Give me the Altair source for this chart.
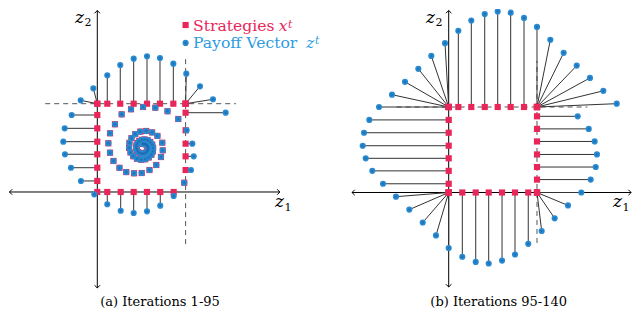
import altair as alt
import numpy as np
import pandas as pd

# ---------------- data (units: the strategy square is [0,1] x [0,1]) ----------------
# (a) payoff vectors z^t, iterations 1-95, in time order
za_u = [0.512, 0.528, 0.545, 0.559, 0.570, 0.575, 0.575, 0.566, 0.551, 0.531,
        0.508, 0.485, 0.464, 0.449, 0.441, 0.443, 0.455, 0.475, 0.504, 0.537,
        0.570, 0.600, 0.622, 0.632, 0.630, 0.613, 0.583, 0.543, 0.496, 0.449,
        0.407, 0.376, 0.360, 0.364, 0.387, 0.430, 0.487, 0.554, 0.621, 0.681,
        0.736, 0.741, 0.721, 0.668, 0.591, 0.503, 0.416, 0.328, 0.251, 0.183,
        0.144, 0.125, 0.144, 0.200, 0.276, 0.382, 0.518, 0.657, 0.795, 0.917,
        1.012, 1.076, 1.092, 1.061, 0.985, 0.865, 0.713, 0.563, 0.412, 0.265,
        0.113, -0.034, -0.185, -0.298, -0.366, -0.385, -0.369, -0.290, -0.188, -0.045,
        0.113, 0.260, 0.412, 0.563, 0.710, 0.861, 1.008, 1.163, 1.310, 1.454]
za_v = [0.544, 0.546, 0.542, 0.533, 0.518, 0.500, 0.480, 0.461, 0.446, 0.436,
        0.434, 0.439, 0.453, 0.474, 0.500, 0.528, 0.555, 0.577, 0.591, 0.595,
        0.587, 0.567, 0.537, 0.500, 0.460, 0.422, 0.391, 0.371, 0.366, 0.377,
        0.405, 0.448, 0.500, 0.557, 0.611, 0.655, 0.684, 0.691, 0.675, 0.635,
        0.558, 0.472, 0.396, 0.306, 0.249, 0.215, 0.212, 0.226, 0.274, 0.351,
        0.445, 0.552, 0.665, 0.767, 0.880, 0.937, 0.963, 0.955, 0.915, 0.827,
        0.699, 0.547, 0.404, 0.249, 0.105, -0.045, -0.155, -0.219, -0.238, -0.212,
        -0.139, -0.026, 0.125, 0.275, 0.427, 0.570, 0.721, 0.872, 1.038, 1.174,
        1.322, 1.438, 1.510, 1.537, 1.518, 1.453, 1.340, 1.197, 1.050, 0.898]

# (b) payoff vectors z^t, iterations 95-140
zb_u = [1.461, 1.586, 1.653, 1.679, 1.665, 1.608,
        1.502, 1.351, 1.200, 1.053,
        0.901, 0.751, 0.604, 0.453, 0.306, 0.154, 0.000,
        -0.144, -0.294, -0.446, -0.597,
        -0.744, -0.865, -0.940, -0.974, -0.959, -0.899,
        -0.789, -0.642, -0.495, -0.344, -0.197, -0.042,
        0.109, 0.256, 0.408, 0.555, 0.702, 0.853,
        1.000, 1.151, 1.302, 1.450, 1.600, 1.751, 1.903]
zb_v = [0.891, 0.744, 0.597, 0.445, 0.298, 0.151,
        0.000, -0.151, -0.302, -0.450,
        -0.600, -0.725, -0.796, -0.830, -0.812, -0.751, -0.649,
        -0.502, -0.351, -0.200, -0.049,
        0.102, 0.253, 0.400, 0.547, 0.699, 0.849,
        1.000, 1.144, 1.294, 1.446, 1.597, 1.747,
        1.891, 2.012, 2.087, 2.118, 2.103, 2.042,
        1.937, 1.786, 1.634, 1.484, 1.340, 1.189, 1.039]

captions = ["(a) Iterations 1-95", "(b) Iterations 95-140"]
legend_labels = ["Strategies", "Payoff Vector"]
legend_symbols = ["x", "z"]

RED = "#E8265A"
BLUE = "#2A8DD4"
BLUE_TXT = "#2D9BE0"
DARK_BLUE = "#17599A"
SERIF = "DejaVu Serif"
CHEVRON = "M-1,-1L0,0L-1,1"
STAR = "M-1,0L1,0M0,-1L0,1M-0.7,-0.7L0.7,0.7M-0.7,0.7L0.7,-0.7"


def traj(u, v):
    df = pd.DataFrame({"u": u, "v": v})
    df["xu"] = np.clip(df["u"], 0, 1)  # strategy x^t = projection of z^t on the square
    df["xv"] = np.clip(df["v"], 0, 1)
    return df


def panel(df, xdom, ydom, w, h, axis_ext, z1pos, z2pos, cap_pos, caption, extra=()):
    sx = alt.Scale(domain=xdom, nice=False, zero=False)
    sy = alt.Scale(domain=ydom, nice=False, zero=False)

    def X(f):
        return alt.X(f"{f}:Q", scale=sx, axis=None)

    def Y(f):
        return alt.Y(f"{f}:Q", scale=sy, axis=None)

    xl, xr, yb, yt = axis_ext
    axes = pd.DataFrame({"a": [xl, 0], "b": [0, yb], "a2": [xr, 0], "b2": [0, yt]})
    heads = pd.DataFrame({"a": [xl, xr, 0, 0], "b": [0, 0, yb, yt], "ang": [180, 0, 90, 270]})
    dashes = pd.DataFrame({"a": [-0.59, 1.0], "b": [1.0, -0.59], "a2": [1.57, 1.0], "b2": [1.0, 1.54]})

    dash_l = alt.Chart(dashes).mark_rule(color="#555555", strokeWidth=1, strokeDash=[5, 4], clip=True).encode(
        x=X("a"), y=Y("b"), x2=alt.X2("a2"), y2=alt.Y2("b2"))
    axes_l = alt.Chart(axes).mark_rule(color="black", strokeWidth=1, clip=True).encode(
        x=X("a"), y=Y("b"), x2=alt.X2("a2"), y2=alt.Y2("b2"))
    head_l = alt.Chart(heads).mark_point(shape=CHEVRON, filled=False, size=30, color="black",
                                         strokeWidth=1, opacity=1, clip=True).encode(
        x=X("a"), y=Y("b"), angle=alt.Angle("ang:Q", scale=None))
    conn_l = alt.Chart(df).mark_rule(color="#333333", strokeWidth=1, clip=True).encode(
        x=X("u"), y=Y("v"), x2=alt.X2("xu"), y2=alt.Y2("xv"))
    sq_l = alt.Chart(df).mark_square(size=38, color=RED, opacity=1, clip=True).encode(x=X("xu"), y=Y("xv"))
    ci_l = alt.Chart(df).mark_circle(size=38, color=BLUE, opacity=1, clip=True).encode(x=X("u"), y=Y("v"))
    st_l = alt.Chart(df).mark_point(shape=STAR, size=12, filled=False, color=DARK_BLUE, strokeWidth=0.6,
                                    opacity=0.6, clip=True).encode(x=X("u"), y=Y("v"))

    zt = pd.DataFrame({"a": [z1pos[0], z2pos[0]], "b": [z1pos[1], z2pos[1]], "t": ["z", "z"]})
    zs = pd.DataFrame({"a": [z1pos[2], z2pos[2]], "b": [z1pos[3], z2pos[3]], "t": ["1", "2"]})
    zt_l = alt.Chart(zt).mark_text(font=SERIF, fontSize=17, fontStyle="italic", align="left",
                                   baseline="alphabetic", color="black").encode(
        x=X("a"), y=Y("b"), text="t:N")
    zs_l = alt.Chart(zs).mark_text(font=SERIF, fontSize=11, align="left",
                                   baseline="alphabetic", color="black").encode(
        x=X("a"), y=Y("b"), text="t:N")
    cap = pd.DataFrame({"a": [cap_pos[0]], "b": [cap_pos[1]], "t": [caption]})
    cap_l = alt.Chart(cap).mark_text(font=SERIF, fontSize=13, align="center", baseline="alphabetic",
                                     color="black").encode(x=X("a"), y=Y("b"), text="t:N")

    layers = [dash_l, axes_l, head_l, conn_l, sq_l, ci_l, st_l, zt_l, zs_l, cap_l]
    for mk in extra:
        layers.append(mk(X, Y))
    return alt.layer(*layers).properties(width=w, height=h)


def legend_layers():
    def sq(X, Y):
        d = pd.DataFrame({"a": [1.0], "b": [1.891]})
        return alt.Chart(d).mark_square(size=38, color=RED, opacity=1).encode(x=X("a"), y=Y("b"))

    def ci(X, Y):
        d = pd.DataFrame({"a": [1.0], "b": [1.688]})
        return alt.Chart(d).mark_circle(size=38, color=BLUE, opacity=1).encode(x=X("a"), y=Y("b"))

    def ci_star(X, Y):
        d = pd.DataFrame({"a": [1.0], "b": [1.688]})
        return alt.Chart(d).mark_point(shape=STAR, size=12, filled=False, color=DARK_BLUE,
                                       strokeWidth=0.6, opacity=0.6).encode(x=X("a"), y=Y("b"))

    def words(X, Y):
        d = pd.DataFrame({"a": [1.084, 1.084], "b": [1.823, 1.634], "t": legend_labels, "c": [RED, BLUE_TXT]})
        return alt.Chart(d).mark_text(font=SERIF, fontSize=15.6, align="left", baseline="alphabetic").encode(
            x=X("a"), y=Y("b"), text="t:N", color=alt.Color("c:N", scale=None))

    def syms(X, Y):
        d = pd.DataFrame({"a": [2.055, 2.364], "b": [1.823, 1.634], "t": legend_symbols, "c": [RED, BLUE_TXT]})
        return alt.Chart(d).mark_text(font=SERIF, fontSize=15.6, fontStyle="italic", align="left",
                                      baseline="alphabetic").encode(
            x=X("a"), y=Y("b"), text="t:N", color=alt.Color("c:N", scale=None))

    def sups(X, Y):
        d = pd.DataFrame({"a": [2.160, 2.466], "b": [1.861, 1.672], "t": ["t", "t"], "c": [RED, BLUE_TXT]})
        return alt.Chart(d).mark_text(font=SERIF, fontSize=10.5, fontStyle="italic", align="left",
                                      baseline="alphabetic").encode(
            x=X("a"), y=Y("b"), text="t:N", color=alt.Color("c:N", scale=None))

    return [sq, ci, ci_star, words, syms, sups]


da = traj(za_u, za_v)
db = traj(zb_u, zb_v)

pa = panel(da, [-1.0113, 2.6920], [-1.4270, 2.0725], 327, 309,
           (-0.995, 2.068, -1.087, 2.055),
           (2.012, -0.170, 2.120, -0.215),
           (-0.253, 1.914, -0.145, 1.880),
           (0.710, -1.291), captions[0], extra=legend_layers())
pb = panel(db, [-1.2877, 2.0759], [-1.4678, 2.1462], 297, 309,
           (-1.095, 2.066, -1.105, 2.129),
           (1.861, -0.170, 1.968, -0.217),
           (-0.257, 1.982, -0.149, 1.947),
           (0.566, -1.3275), captions[1])

chart = alt.hconcat(pa, pb, spacing=0, bounds="flush").properties(padding=0).configure_view(strokeWidth=0)
chart.save("out.html", embed_options={"renderer": "svg", "actions": False})
